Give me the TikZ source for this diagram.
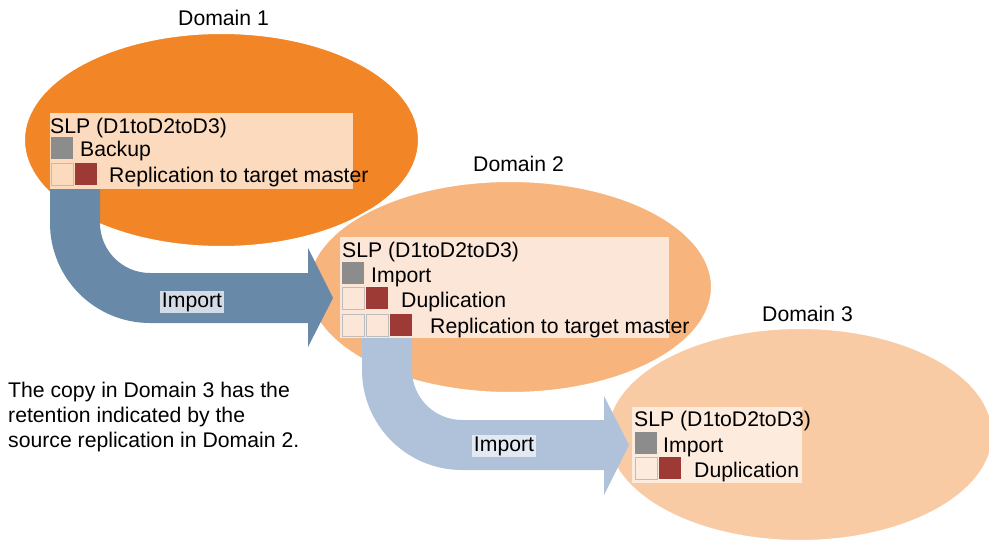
\documentclass[tikz,border=0pt]{standalone}
\usepackage{fontspec}
\setmainfont{Liberation Sans}
\usetikzlibrary{shapes.geometric}

\definecolor{domOne}{HTML}{F28627}
\definecolor{domTwo}{HTML}{F7B57D}
\definecolor{domThree}{HTML}{F9CBA5}
\definecolor{boxOne}{HTML}{FBDABD}
\definecolor{boxTwo}{HTML}{FCE6D8}
\definecolor{boxThree}{HTML}{FDEBDD}
\definecolor{sqGray}{HTML}{8C8C8C}
\definecolor{sqRed}{HTML}{9E3A35}
\definecolor{sqEdge}{HTML}{BDBDBD}
\definecolor{flowOne}{HTML}{6989A9}
\definecolor{flowTwo}{HTML}{AFC2DA}
\definecolor{tagOne}{HTML}{D3DCE6}
\definecolor{tagTwo}{HTML}{E2E9F2}

\begin{document}
\begin{tikzpicture}[
    x=1pt, y=-1pt,
    % --- styles ---
    dom/.style = {ellipse, fill=#1, draw=white, line width=2pt, inner sep=0pt}, % domain blob
    slpbox/.style = {rectangle, fill=#1, inner sep=0pt, anchor=north west},   % SLP panel
    sq/.style = {rectangle, fill=#1, minimum size=21.5pt, inner sep=0pt, anchor=north west},
    emptysq/.style = {sq=#1, draw=sqEdge, line width=1.3pt},                  % blank step
    txt/.style = {font=\fontsize{21.2}{25}\selectfont, inner sep=0pt, anchor=base west},
    flow/.style = {fill=#1},                                                  % import arrow
    tag/.style = {font=\fontsize{21.2}{25}\selectfont, fill=#1, inner sep=2pt} % arrow label
    ]

    % --- frame ---
    \useasboundingbox (0,0) rectangle (989,543);

    % --- domains ---
    \node[dom=domOne,   minimum width=395pt, minimum height=214pt] (dom1) at (221.5,140) {};
    \node[dom=domTwo,   minimum width=404pt, minimum height=212pt] (dom2) at (510,287) {};
    \node[dom=domThree, minimum width=386pt, minimum height=213pt] (dom3) at (800,434.5) {};
    \node[txt] (dom1lbl) at (178,26)  {Domain 1};
    \node[txt] (dom2lbl) at (473,171) {Domain 2};
    \node[txt] (dom3lbl) at (762,321) {Domain 3};

    % --- import arrows ---
    \coordinate (imp1) at (50,185);   % under SLP panel of domain 1
    \coordinate (imp2) at (362,335);  % under SLP panel of domain 2
    \fill[flow=flowOne] (imp1) -- (50,223) arc[start angle=180, end angle=90, radius=100]
        -- (308,323) -- (308,347) -- (333,298) -- (308,248) -- (308,273) -- (150,273)
        arc[start angle=90, end angle=180, radius=50] -- (100,185) -- cycle;
    \fill[flow=flowTwo] (imp2) -- (362,370) arc[start angle=180, end angle=90, radius=100]
        -- (604,470) -- (604,495) -- (629,445) -- (604,396) -- (604,420) -- (462,420)
        arc[start angle=90, end angle=180, radius=50] -- (412,335) -- cycle;
    \node[tag=tagOne] (imp1lbl) at (192,302) {Import};
    \node[tag=tagTwo] (imp2lbl) at (504,446) {Import};

    % --- SLP panel, domain 1 ---
    \node[slpbox=boxOne, minimum width=303pt, minimum height=76pt] (slp1) at (50,113) {};
    \node[txt] (slp1t) at (50,133) {SLP (D1toD2toD3)};
    \node[sq=sqGray] (slp1a) at (51,137) {};
    \node[txt] (slp1at) at (80,156) {Backup};
    \node[emptysq=boxOne] (slp1b) at (51,163) {};
    \node[sq=sqRed] (slp1c) at (75,163) {};
    \node[txt] (slp1ct) at (109,182) {Replication to target master};

    % --- SLP panel, domain 2 ---
    \node[slpbox=boxTwo, minimum width=329pt, minimum height=101pt] (slp2) at (340,237) {};
    \node[txt] (slp2t) at (342,257) {SLP (D1toD2toD3)};
    \node[sq=sqGray] (slp2a) at (342,262) {};
    \node[txt] (slp2at) at (371,282) {Import};
    \node[emptysq=boxTwo] (slp2b) at (342,287) {};
    \node[sq=sqRed] (slp2c) at (366,287) {};
    \node[txt] (slp2ct) at (401,307) {Duplication};
    \node[emptysq=boxTwo] (slp2d) at (342,314) {};
    \node[emptysq=boxTwo] (slp2e) at (366,314) {};
    \node[sq=sqRed] (slp2f) at (390,314) {};
    \node[txt] (slp2ft) at (430,333) {Replication to target master};

    % --- SLP panel, domain 3 ---
    \node[slpbox=boxThree, minimum width=170pt, minimum height=76pt] (slp3) at (632,407) {};
    \node[txt] (slp3t) at (634,426) {SLP (D1toD2toD3)};
    \node[sq=sqGray] (slp3a) at (635,432) {};
    \node[txt] (slp3at) at (663,452) {Import};
    \node[emptysq=boxThree] (slp3b) at (635,457) {};
    \node[sq=sqRed] (slp3c) at (659,457) {};
    \node[txt] (slp3ct) at (694,477) {Duplication};

    % --- note ---
    \node[font=\fontsize{21.2}{25}\selectfont, inner sep=0pt, anchor=north west, align=left]
        (note) at (8,382) {The copy in Domain 3 has the\\retention indicated by the\\source replication in Domain 2.};
\end{tikzpicture}
\end{document}
